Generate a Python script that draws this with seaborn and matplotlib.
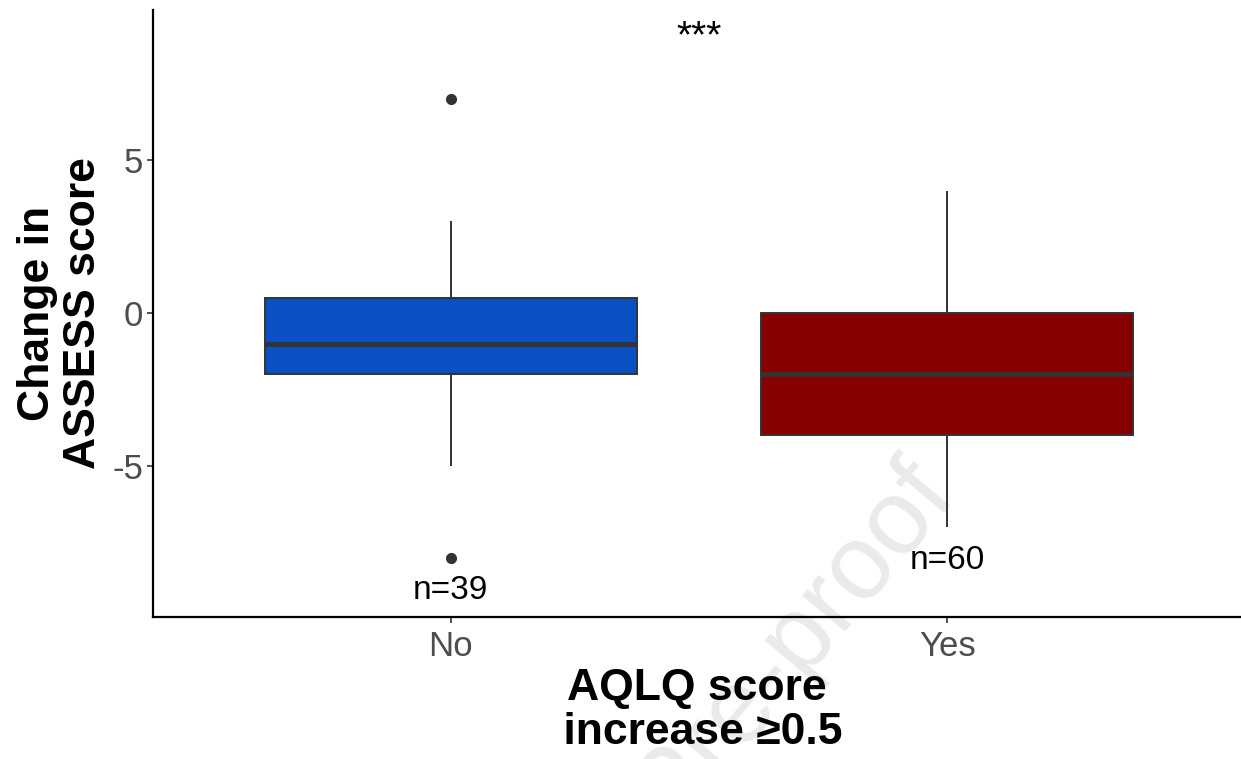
import numpy as np
import pandas as pd
import matplotlib
matplotlib.use("Agg")
import matplotlib.pyplot as plt
import seaborn as sns

# groups on the x axis
groups = ["No", "Yes"]
box_colors = ["#0a50c4", "#860000"]

# change in ASSESS score, as value / count pairs per group
no_values = [-8, -5, -4, -3, -2, -1, 0, 1, 2, 3, 7]
no_counts = [1, 1, 1, 2, 6, 10, 8, 5, 3, 1, 1]
yes_values = [-7, -6, -5, -4, -3, -2, -1, 0, 1, 2, 3, 4]
yes_counts = [1, 3, 5, 8, 8, 8, 6, 9, 5, 4, 2, 1]

signif_label = "***"

# build the long table
no_scores = np.repeat(no_values, no_counts)
yes_scores = np.repeat(yes_values, yes_counts)
df = pd.DataFrame({
    "group": ["No"] * len(no_scores) + ["Yes"] * len(yes_scores),
    "change": np.concatenate([no_scores, yes_scores]),
})

sns.set_style("ticks")
plt.rcParams["font.family"] = ["Liberation Sans", "DejaVu Sans"]

fig, ax = plt.subplots(figsize=(12.41, 7.59), dpi=100)
fig.subplots_adjust(left=153 / 1241, right=1240 / 1241, top=1 - 10 / 759, bottom=1 - 617 / 759)

# faint watermark behind everything
fig.text(958 / 1241, 1 - 497 / 759, "Journal Pre-proof", rotation=50, rotation_mode="anchor",
         ha="right", va="baseline", fontsize=76, color="#eaeaea", zorder=0)
ax.set_zorder(1)
ax.patch.set_alpha(0)

dark = "#333333"
sns.boxplot(data=df, x="group", y="change", hue="group", order=groups,
            palette=dict(zip(groups, box_colors)), saturation=1, width=0.75,
            linewidth=1.4, linecolor=dark, showcaps=False, legend=False, ax=ax,
            medianprops=dict(linewidth=3.5, color=dark),
            flierprops=dict(marker="o", markersize=7, markerfacecolor=dark,
                            markeredgecolor=dark))

# sample size under each box
for i, scores in enumerate([no_scores, yes_scores]):
    ax.text(i, scores.min() - 1.08, f"n={len(scores)}", ha="center", va="center",
            fontsize=24, color="black")

ax.text(0.5, 9.0, signif_label, ha="center", va="center", fontsize=28, color="black")

ax.set_xlim(-0.6, 1.59)
ax.set_ylim(-9.93, 9.9)
ax.set_yticks([-5, 0, 5])
ax.set_yticklabels(["-5", "0", "5"])

ax.tick_params(axis="both", labelsize=25, labelcolor="#4d4d4d", color=dark,
               length=4, width=1.2)
ax.tick_params(axis="y", pad=3)
ax.tick_params(axis="x", pad=5)

ax.set_xlabel("AQLQ score\n increase ≥0.5", fontsize=32, fontweight="bold",
              color="black", linespacing=1.1, labelpad=4)
ax.set_ylabel("Change in\nASSESS score", fontsize=32, fontweight="bold",
              color="black", linespacing=1.15, labelpad=6)

sns.despine(ax=ax)
for side in ["left", "bottom"]:
    ax.spines[side].set_linewidth(1.6)
    ax.spines[side].set_color("black")

fig.savefig("out.png", dpi=100)
